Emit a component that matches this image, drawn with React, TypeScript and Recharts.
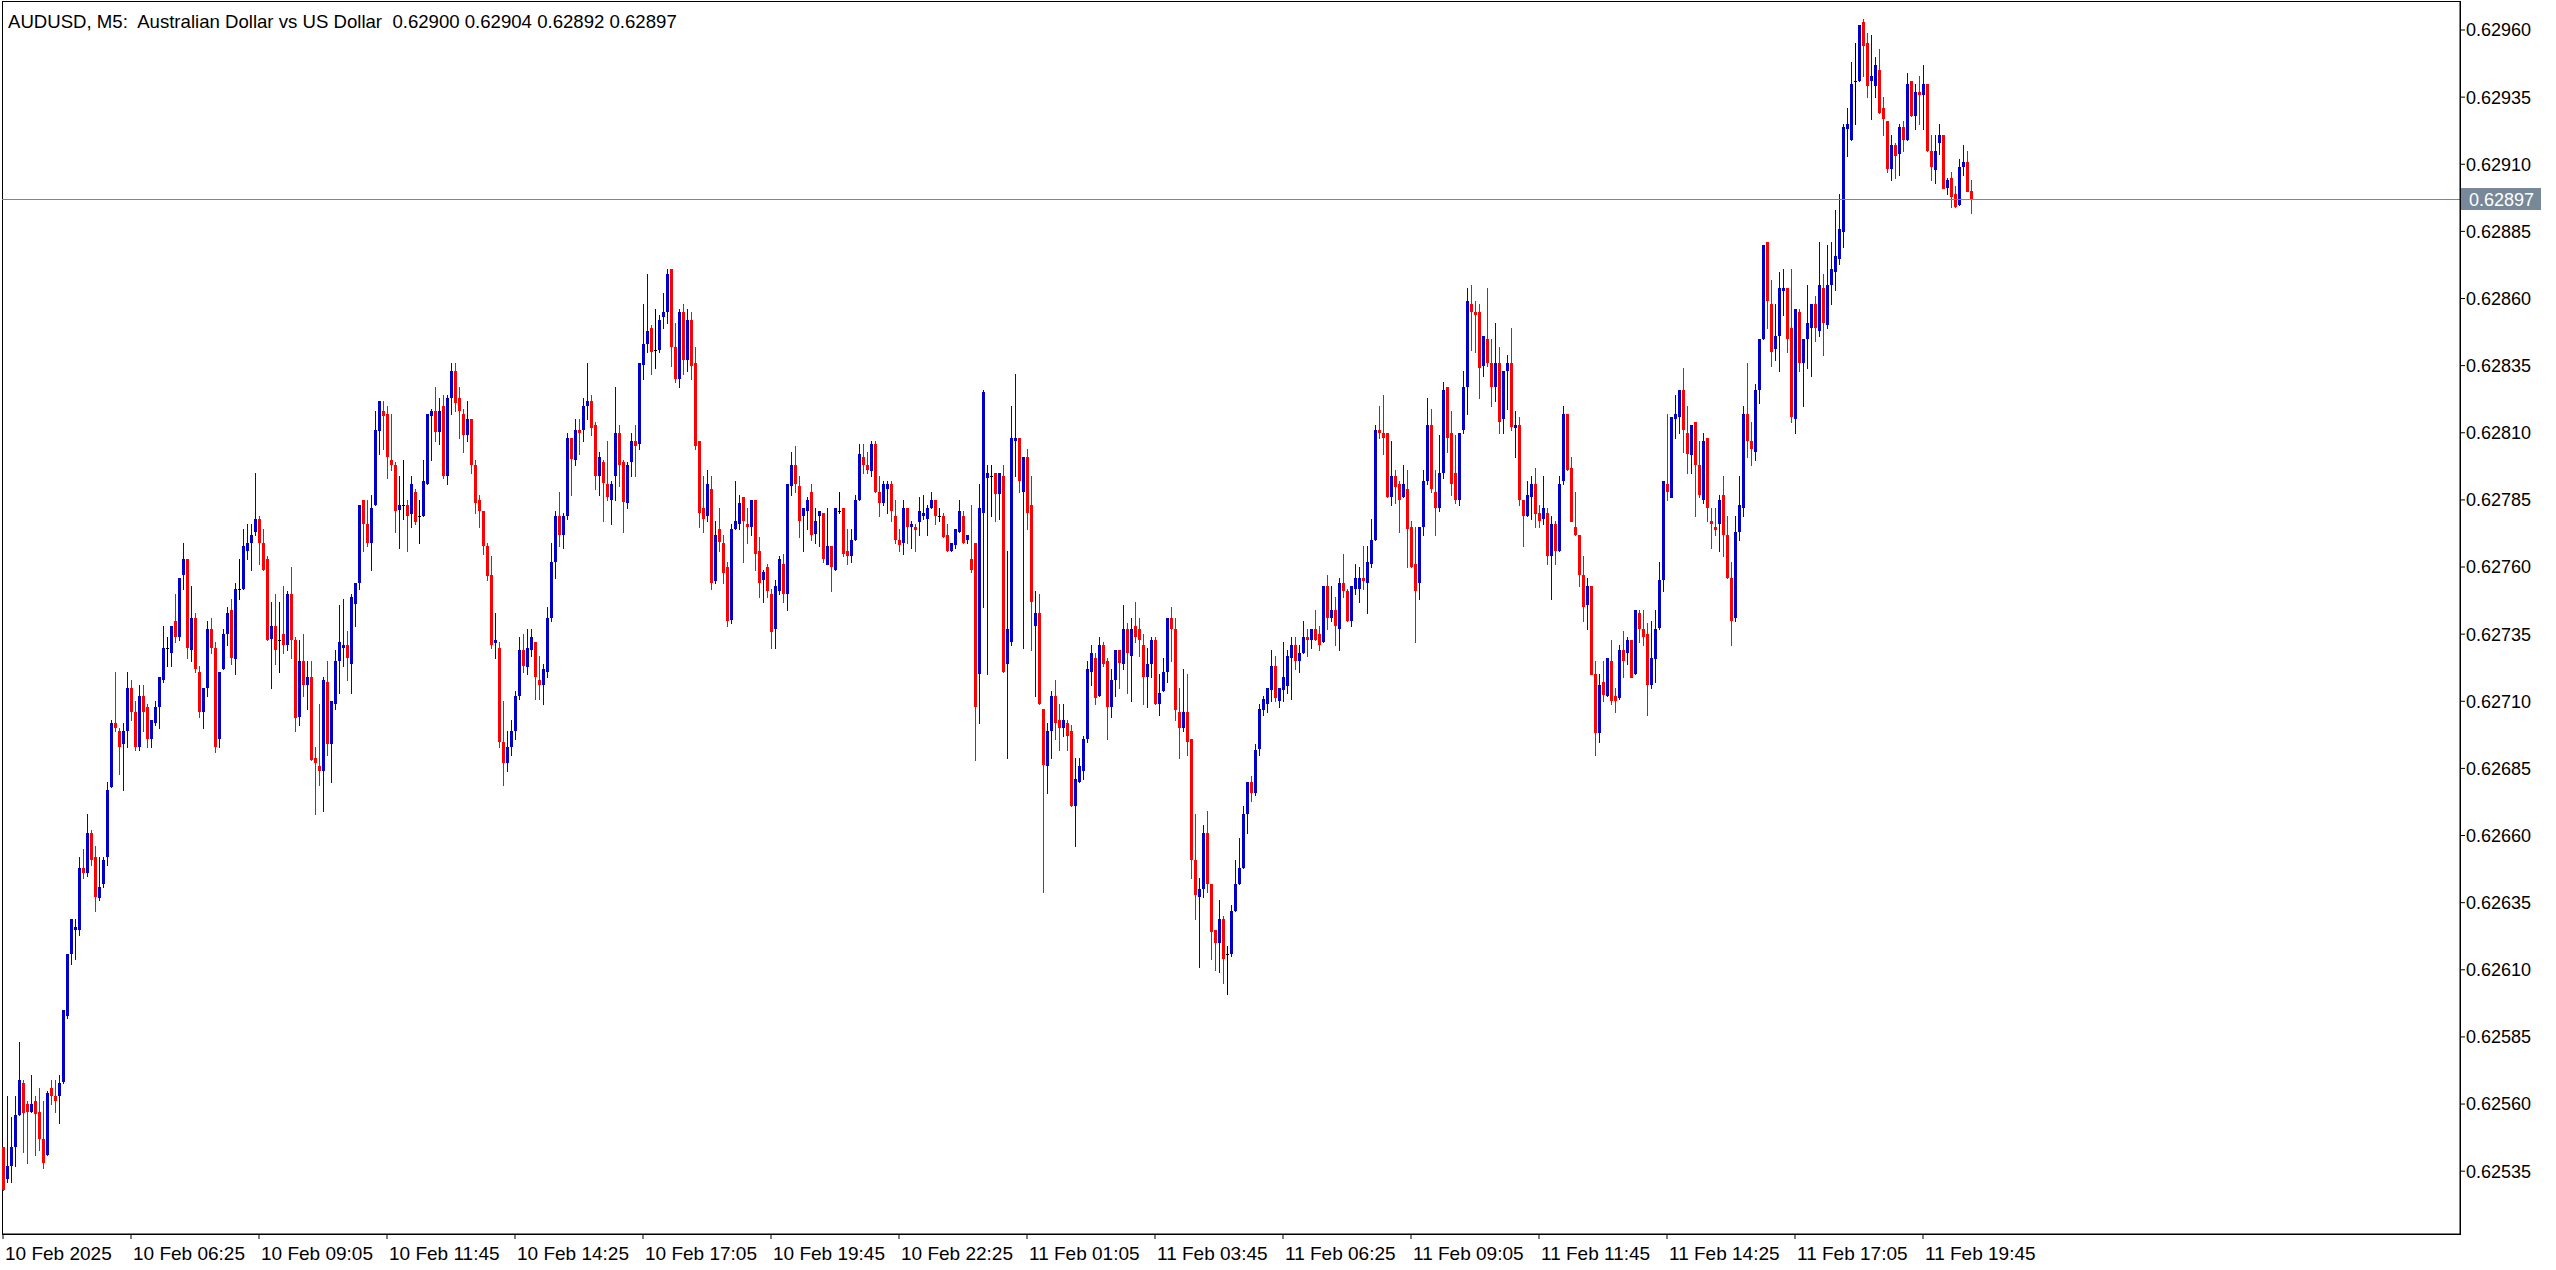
import React from 'react';
import { ComposedChart, Bar, XAxis, YAxis, ReferenceLine, ReferenceArea } from 'recharts';

// AUDUSD M5 candles, values in points (0.00001) above 0.62500
const BASE = 0.625;
const PT = 0.00001;

const opens = [
  44, 32, 37, 44, 56, 68, 60, 57, 61, 57, 47, 41, 66, 63, 63, 68, 93, 116, 125, 125,
  148, 146, 161, 152, 137, 142, 152, 178, 202, 199, 194, 199, 215, 206, 193, 212, 208, 196, 202, 208,
  218, 230, 228, 240, 234, 257, 263, 229, 241, 221, 206, 215, 237, 230, 196, 222, 235, 244, 226, 252,
  252, 266, 269, 273, 278, 269, 263, 233, 238, 233, 235, 231, 250, 233, 204, 225, 216, 219, 189, 186,
  184, 217, 194, 209, 225, 230, 231, 224, 246, 254, 285, 276, 269, 283, 311, 318, 317, 300, 298, 281,
  283, 283, 280, 288, 279, 279, 291, 316, 318, 310, 320, 294, 323, 333, 323, 317, 309, 315, 298, 285,
  281, 268, 257, 232, 230, 195, 187, 193, 199, 212, 229, 223, 229, 232, 218, 216, 221, 241, 262, 279,
  272, 279, 308, 300, 311, 311, 320, 322, 313, 294, 299, 291, 285, 294, 310, 299, 284, 299, 307, 306,
  335, 343, 349, 341, 341, 353, 355, 371, 342, 330, 355, 337, 352, 336, 307, 282, 279, 289, 255, 274,
  269, 260, 240, 274, 276, 286, 276, 275, 285, 266, 255, 260, 250, 237, 251, 261, 250, 290, 298, 290,
  279, 281, 288, 272, 279, 280, 261, 268, 259, 281, 282, 266, 264, 270, 285, 301, 298, 296, 306, 288,
  284, 289, 291, 279, 270, 269, 282, 275, 275, 277, 279, 278, 282, 285, 279, 279, 272, 266, 268, 273,
  279, 270, 263, 269, 220, 280, 293, 294, 295, 287, 294, 224, 232, 307, 308, 288, 301, 283, 238, 243,
  207, 186, 199, 212, 203, 200, 202, 199, 171, 180, 184, 196, 221, 226, 212, 231, 225, 208, 218, 229,
  224, 237, 227, 238, 237, 231, 219, 224, 233, 209, 214, 221, 241, 237, 206, 200, 206, 196, 151, 137,
  140, 161, 142, 125, 120, 129, 116, 116, 132, 142, 148, 168, 180, 176, 192, 207, 209, 214, 223, 210,
  214, 216, 226, 231, 225, 228, 234, 233, 237, 235, 232, 253, 241, 244, 237, 254, 251, 240, 252, 252,
  256, 254, 261, 270, 311, 310, 310, 286, 294, 291, 286, 289, 275, 261, 254, 275, 292, 313, 288, 282,
  295, 327, 310, 295, 285, 311, 327, 358, 355, 355, 335, 345, 336, 327, 336, 315, 333, 336, 312, 313,
  285, 279, 286, 291, 280, 278, 280, 264, 276, 266, 292, 317, 297, 275, 272, 257, 246, 253, 220, 198,
  217, 212, 225, 212, 211, 229, 228, 233, 220, 243, 237, 235, 216, 226, 237, 255, 291, 286, 315, 316,
  326, 310, 302, 314, 298, 285, 308, 277, 275, 276, 287, 272, 256, 241, 273, 282, 317, 307, 303, 326,
  345, 381, 358, 341, 346, 363, 364, 349, 315, 355, 336, 345, 349, 358, 348, 364, 350, 365, 370, 375,
  385, 423, 419, 441, 441, 463, 455, 441, 439, 445, 431, 426, 408, 417, 414, 424, 419, 441, 428, 437,
  436, 440, 415, 408, 418, 421, 401, 405, 399, 395, 409, 411, 400,
];

const highs = [
  44, 63, 55, 63, 83, 69, 61, 71, 63, 66, 61, 65, 69, 69, 71, 95, 116, 129, 129, 152,
  155, 168, 162, 156, 152, 152, 180, 203, 221, 200, 202, 221, 218, 210, 216, 216, 209, 203, 210, 219,
  238, 234, 238, 250, 256, 269, 263, 253, 243, 223, 215, 240, 241, 232, 221, 237, 245, 248, 254, 263,
  274, 276, 276, 295, 279, 274, 264, 247, 250, 247, 253, 251, 260, 234, 233, 235, 225, 225, 193, 209,
  219, 225, 210, 229, 246, 248, 236, 250, 254, 283, 285, 285, 287, 318, 322, 322, 320, 317, 299, 294,
  300, 285, 294, 289, 285, 300, 317, 319, 327, 323, 324, 324, 336, 336, 327, 319, 322, 315, 300, 287,
  281, 269, 264, 243, 232, 210, 199, 203, 214, 234, 235, 237, 237, 232, 227, 224, 245, 269, 281, 288,
  280, 310, 308, 315, 315, 323, 336, 324, 314, 303, 300, 307, 292, 327, 313, 300, 299, 310, 313, 336,
  358, 369, 350, 356, 354, 362, 371, 371, 351, 356, 358, 356, 355, 342, 307, 294, 296, 294, 277, 282,
  272, 262, 276, 292, 287, 286, 282, 285, 285, 271, 259, 261, 252, 255, 264, 265, 291, 303, 305, 294,
  282, 286, 291, 282, 281, 280, 282, 268, 282, 288, 282, 274, 274, 287, 306, 306, 303, 307, 307, 294,
  292, 292, 292, 285, 274, 285, 282, 277, 276, 286, 287, 283, 288, 285, 282, 280, 276, 269, 274, 285,
  281, 272, 283, 269, 291, 326, 298, 298, 295, 295, 298, 266, 320, 332, 308, 301, 304, 294, 251, 250,
  207, 202, 214, 218, 209, 209, 203, 201, 189, 189, 197, 225, 231, 228, 234, 232, 226, 222, 229, 229,
  246, 239, 241, 247, 241, 235, 230, 234, 234, 220, 226, 241, 245, 241, 215, 222, 220, 196, 168, 144,
  164, 169, 142, 125, 136, 130, 119, 134, 151, 159, 171, 180, 182, 194, 209, 212, 215, 229, 227, 215,
  232, 229, 234, 234, 231, 240, 237, 237, 244, 238, 253, 257, 253, 249, 256, 265, 252, 253, 261, 260,
  268, 268, 278, 313, 320, 324, 310, 307, 296, 292, 298, 296, 277, 275, 275, 296, 323, 319, 296, 309,
  329, 327, 318, 309, 310, 333, 364, 365, 359, 358, 346, 364, 345, 351, 342, 333, 339, 349, 318, 316,
  285, 292, 294, 297, 283, 294, 282, 279, 277, 294, 320, 317, 301, 288, 272, 264, 256, 253, 225, 220,
  225, 226, 233, 215, 231, 236, 234, 233, 244, 244, 244, 239, 240, 244, 262, 292, 317, 316, 324, 326,
  334, 320, 313, 314, 307, 310, 308, 282, 282, 287, 294, 279, 262, 279, 294, 320, 336, 314, 328, 345,
  380, 381, 367, 358, 370, 371, 364, 371, 356, 356, 345, 365, 358, 361, 381, 369, 380, 381, 393, 399,
  425, 431, 448, 455, 462, 464, 459, 458, 450, 453, 435, 426, 421, 418, 425, 426, 444, 441, 440, 443,
  447, 440, 421, 421, 425, 421, 405, 407, 402, 412, 417, 415, 404,
];

const lows = [
  28, 31, 31, 37, 56, 42, 38, 57, 41, 43, 36, 41, 60, 57, 53, 68, 92, 112, 114, 123,
  144, 145, 149, 132, 136, 141, 149, 178, 199, 183, 177, 193, 203, 192, 192, 199, 193, 193, 201, 200,
  217, 223, 223, 232, 233, 252, 226, 225, 221, 204, 200, 212, 228, 191, 193, 222, 231, 224, 220, 248,
  252, 263, 259, 272, 261, 259, 233, 215, 224, 221, 228, 229, 226, 199, 201, 212, 207, 188, 168, 179,
  169, 190, 180, 207, 213, 223, 218, 213, 238, 252, 266, 268, 259, 283, 302, 304, 293, 296, 273, 267,
  278, 266, 275, 276, 269, 279, 291, 300, 307, 306, 293, 291, 317, 318, 308, 303, 307, 295, 280, 275,
  265, 255, 230, 226, 193, 179, 184, 190, 196, 211, 221, 220, 227, 211, 211, 209, 219, 240, 256, 268,
  267, 278, 287, 298, 302, 307, 315, 309, 289, 287, 277, 285, 276, 285, 290, 273, 282, 294, 294, 304,
  330, 340, 332, 334, 340, 349, 351, 335, 329, 327, 332, 333, 330, 304, 275, 273, 277, 252, 254, 266,
  254, 238, 239, 274, 274, 262, 269, 272, 259, 249, 247, 249, 230, 230, 250, 247, 244, 287, 288, 271,
  266, 274, 270, 269, 268, 262, 261, 251, 259, 280, 264, 261, 262, 270, 285, 295, 295, 294, 288, 279,
  283, 280, 277, 269, 266, 265, 269, 267, 266, 272, 278, 272, 282, 276, 277, 271, 266, 266, 267, 273,
  269, 269, 258, 188, 202, 245, 220, 279, 277, 278, 221, 189, 231, 294, 288, 230, 274, 229, 212, 209,
  139, 176, 189, 196, 192, 197, 192, 171, 156, 180, 181, 195, 216, 209, 212, 223, 196, 204, 212, 215,
  222, 213, 210, 232, 227, 209, 208, 219, 209, 205, 214, 217, 225, 203, 189, 199, 190, 144, 129, 111,
  137, 139, 114, 110, 109, 105, 101, 115, 132, 142, 148, 161, 173, 175, 190, 205, 206, 210, 210, 208,
  210, 213, 211, 222, 221, 228, 227, 230, 233, 229, 232, 237, 240, 231, 229, 249, 240, 238, 250, 247,
  252, 243, 260, 270, 308, 302, 286, 283, 284, 273, 286, 260, 260, 232, 248, 272, 291, 288, 272, 281,
  293, 303, 287, 284, 283, 310, 317, 341, 340, 323, 331, 335, 320, 322, 310, 310, 319, 311, 301, 283,
  268, 279, 278, 275, 275, 276, 261, 248, 261, 266, 291, 296, 277, 272, 253, 240, 237, 220, 190, 195,
  210, 212, 209, 206, 211, 219, 224, 219, 220, 232, 231, 205, 215, 217, 237, 251, 285, 286, 308, 310,
  303, 295, 295, 279, 286, 284, 277, 267, 272, 266, 264, 256, 231, 240, 270, 279, 301, 298, 300, 321,
  345, 349, 335, 337, 333, 354, 340, 314, 310, 333, 320, 334, 331, 344, 346, 339, 349, 358, 363, 373,
  379, 413, 419, 425, 441, 443, 435, 427, 435, 429, 421, 407, 404, 405, 406, 415, 419, 428, 423, 425,
  423, 415, 404, 403, 414, 401, 399, 394, 394, 395, 406, 400, 392,
];

const closes = [
  28, 37, 44, 56, 69, 57, 57, 60, 56, 47, 38, 64, 63, 61, 68, 95, 116, 129, 126, 148,
  146, 161, 151, 137, 141, 151, 177, 202, 200, 193, 199, 215, 206, 193, 212, 206, 196, 203, 208, 219,
  230, 230, 238, 234, 256, 263, 230, 241, 222, 206, 215, 237, 230, 193, 221, 235, 243, 226, 252, 252,
  268, 269, 272, 278, 269, 259, 233, 238, 229, 233, 231, 250, 233, 204, 225, 216, 219, 188, 187, 184,
  218, 194, 210, 225, 232, 231, 226, 249, 254, 283, 276, 269, 282, 311, 322, 316, 301, 298, 281, 283,
  283, 279, 291, 277, 279, 292, 317, 318, 310, 318, 294, 323, 333, 321, 318, 309, 315, 298, 284, 281,
  268, 257, 231, 233, 195, 187, 193, 199, 212, 229, 223, 230, 234, 219, 216, 222, 241, 262, 279, 272,
  279, 308, 300, 311, 310, 320, 322, 312, 294, 301, 291, 286, 291, 310, 298, 284, 298, 307, 305, 336,
  343, 348, 340, 341, 352, 355, 369, 342, 330, 355, 337, 352, 335, 305, 280, 278, 291, 254, 272, 269,
  258, 240, 274, 277, 284, 277, 275, 285, 265, 254, 258, 251, 236, 253, 263, 250, 291, 298, 291, 277,
  282, 285, 272, 277, 281, 263, 268, 260, 282, 281, 265, 264, 270, 285, 302, 298, 296, 306, 288, 284,
  291, 291, 281, 270, 268, 282, 275, 276, 274, 281, 280, 282, 285, 279, 279, 271, 266, 269, 274, 281,
  269, 272, 259, 208, 282, 325, 295, 294, 287, 295, 221, 237, 308, 308, 292, 301, 280, 247, 243, 209,
  186, 199, 212, 202, 200, 203, 197, 171, 181, 186, 196, 222, 228, 211, 231, 224, 208, 218, 229, 224,
  237, 228, 237, 234, 233, 219, 224, 233, 209, 213, 221, 241, 237, 207, 200, 206, 195, 151, 138, 140,
  161, 142, 124, 120, 129, 114, 116, 132, 142, 148, 168, 180, 176, 192, 207, 211, 215, 223, 211, 215,
  219, 227, 231, 225, 228, 234, 233, 237, 233, 231, 253, 241, 244, 238, 254, 251, 240, 253, 256, 256,
  255, 262, 270, 311, 310, 308, 286, 294, 290, 285, 291, 274, 260, 251, 275, 292, 313, 289, 282, 295,
  326, 308, 291, 285, 310, 327, 359, 355, 354, 334, 346, 336, 327, 336, 314, 333, 336, 312, 313, 285,
  279, 287, 291, 280, 277, 282, 264, 276, 266, 291, 317, 296, 277, 272, 257, 245, 253, 220, 198, 216,
  212, 226, 210, 210, 229, 225, 233, 219, 244, 237, 234, 216, 226, 237, 255, 292, 288, 316, 317, 326,
  311, 302, 313, 298, 287, 307, 282, 276, 274, 285, 272, 256, 240, 273, 283, 317, 307, 304, 326, 345,
  380, 359, 340, 346, 364, 364, 345, 316, 356, 336, 345, 351, 358, 349, 365, 351, 365, 371, 376, 386,
  424, 425, 440, 441, 462, 454, 439, 443, 447, 429, 427, 408, 417, 413, 424, 419, 440, 428, 437, 436,
  440, 415, 409, 415, 421, 401, 404, 398, 394, 409, 411, 400, 397,
];

// bar index of each time label on the bottom scale
const timeTickBars = [0, 32, 64, 96, 128, 160, 192, 224, 256, 288, 320, 352, 384, 416, 448, 480];
const timeTickLabels = [
  '10 Feb 2025', '10 Feb 06:25', '10 Feb 09:05', '10 Feb 11:45', '10 Feb 14:25', '10 Feb 17:05',
  '10 Feb 19:45', '10 Feb 22:25', '11 Feb 01:05', '11 Feb 03:45', '11 Feb 06:25', '11 Feb 09:05',
  '11 Feb 11:45', '11 Feb 14:25', '11 Feb 17:05', '11 Feb 19:45',
];
const priceTicks = [
  0.62535, 0.6256, 0.62585, 0.6261, 0.62635, 0.6266, 0.62685, 0.6271, 0.62735,
  0.6276, 0.62785, 0.6281, 0.62835, 0.6286, 0.62885, 0.6291, 0.62935, 0.6296,
];
const lastPrice = 0.62897;
const symbolTitle = 'AUDUSD, M5:  Australian Dollar vs US Dollar';
const lastBarValues = ['0.62900', '0.62904', '0.62892', '0.62897'];

const W = 2556;
const H = 1270;
const X_DOMAIN: [number, number] = [-0.25, 614.25];
const Y_DOMAIN: [number, number] = [0.625116, 0.629708];
const FONT = '"Liberation Sans", Arial, sans-serif';
const BULL = '#0000CC';
const BEAR = '#FF0000';
const DOJI = '#000000';
const TAG = '#778899';

const data = closes.map((c, i) => {
  const low = BASE + lows[i] * PT;
  const high = BASE + highs[i] * PT;
  return {
    i,
    open: BASE + opens[i] * PT,
    high,
    low,
    close: BASE + c * PT,
    range: [low, high],
  };
});

const CandleShape = (props: any) => {
  const { x, y, width, height, payload } = props;
  if (!payload) return null;
  const { open, high, low, close } = payload;
  const cx = Math.round(x + width / 2);
  const k = high > low ? height / (high - low) : 0;
  const yOpen = y + (high - open) * k;
  const yClose = y + (high - close) * k;
  const color = close > open ? BULL : close < open ? BEAR : DOJI;
  const top = Math.round(Math.min(yOpen, yClose));
  const bodyH = Math.max(1, Math.round(Math.abs(yOpen - yClose)));
  const wickTop = Math.round(y);
  const wickBottom = Math.round(y + height);
  return (
    <g>
      <rect x={cx} y={wickTop} width={1} height={Math.max(1, wickBottom - wickTop + 1)} fill={color} shapeRendering="crispEdges" />
      <rect x={cx - 1} y={top} width={3} height={bodyH} fill={color} shapeRendering="crispEdges" />
    </g>
  );
};

const TimeTick = (props: any) => {
  const { x, y, payload } = props;
  const idx = timeTickBars.indexOf(payload.value);
  return (
    <text x={x + 2} y={y} dy={19} textAnchor="start" fontSize={19} fontFamily={FONT} fill="#000">
      {timeTickLabels[idx]}
    </text>
  );
};

const PriceTag = (props: any) => {
  const { viewBox } = props;
  if (!viewBox) return null;
  const x = viewBox.x + viewBox.width + 1;
  const y = viewBox.y;
  return (
    <g>
      <rect x={x} y={Math.round(y) - 11} width={80} height={22} fill={TAG} />
      <text x={x + 8} y={y} dy="0.355em" fill="#fff" fontSize={18} fontFamily={FONT}>
        {lastPrice.toFixed(5)}
      </text>
    </g>
  );
};

export default function App() {
  return (
    <div style={{ position: 'absolute', left: 0, top: 0, width: W, height: H, background: '#fff' }}>
      <ComposedChart width={W} height={H} data={data} margin={{ top: 1, right: 0, bottom: 0, left: 2 }}>
        <XAxis
          dataKey="i"
          type="number"
          domain={X_DOMAIN}
          allowDataOverflow
          ticks={timeTickBars}
          interval={0}
          height={36}
          tickSize={5}
          tickMargin={2}
          axisLine={{ stroke: '#000' }}
          tickLine={{ stroke: '#000' }}
          tick={<TimeTick />}
        />
        <YAxis
          orientation="right"
          type="number"
          domain={Y_DOMAIN}
          allowDataOverflow
          ticks={priceTicks}
          interval={0}
          width={96}
          tickSize={5}
          tickMargin={1}
          tickFormatter={(v: number) => v.toFixed(5)}
          axisLine={{ stroke: '#000' }}
          tickLine={{ stroke: '#000' }}
          tick={{ fill: '#000', fontSize: 18, fontFamily: FONT }}
        />
        <ReferenceArea
          x1={X_DOMAIN[0]}
          x2={X_DOMAIN[1]}
          y1={Y_DOMAIN[0]}
          y2={Y_DOMAIN[1]}
          fill="none"
          stroke="#000"
          strokeWidth={1}
          shapeRendering="crispEdges"
        />
        <ReferenceLine
          y={lastPrice}
          stroke={TAG}
          strokeWidth={1}
          shapeRendering="crispEdges"
          label={<PriceTag />}
        />
        <Bar dataKey="range" barSize={3} shape={CandleShape} isAnimationActive={false} />
      </ComposedChart>
      <svg width={W} height={40} style={{ position: 'absolute', left: 0, top: 0, pointerEvents: 'none' }}>
        <text x={8} y={28} fontSize={18.6} fontFamily={FONT} fill="#000" style={{ whiteSpace: 'pre' }}>
          {`${symbolTitle}  ${lastBarValues.join(' ')}`}
        </text>
      </svg>
    </div>
  );
}
